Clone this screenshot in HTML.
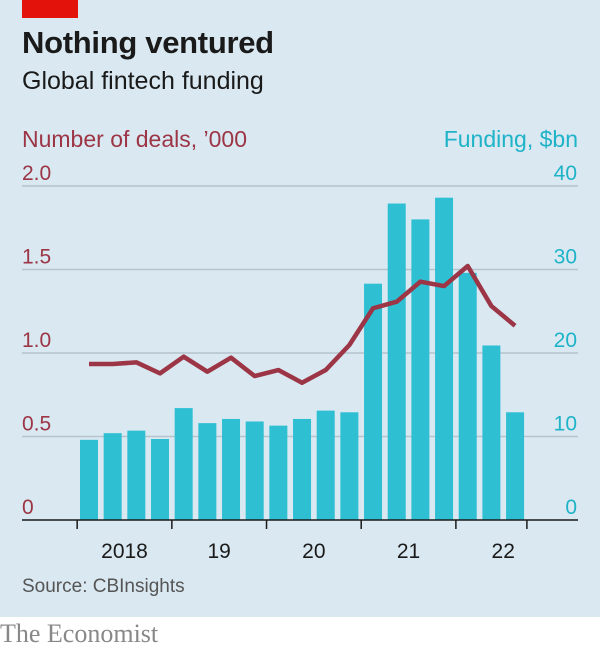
<!DOCTYPE html>
<html><head><meta charset="utf-8"><style>
body{margin:0;width:600px;height:653px;background:#fff;font-family:"Liberation Sans",sans-serif;overflow:hidden}
#panel{position:absolute;left:0;top:0;width:600px;height:617px;background:#d9e8f1}
.t{position:absolute;white-space:nowrap}
</style></head><body>
<div id="panel"></div>
<div class="t" style="left:22px;top:0;width:56px;height:18px;background:#e3120b"></div>
<div class="t" style="left:22px;top:25px;font-size:31px;font-weight:bold;color:#1a1a1a;letter-spacing:-0.3px">Nothing ventured</div>
<div class="t" style="left:22px;top:67px;font-size:25px;color:#1a1a1a">Global fintech funding</div>
<div class="t" style="left:22px;top:126px;font-size:23px;color:#9c3545">Number of deals, ’000</div>
<div class="t" style="right:22px;top:126px;font-size:23px;color:#1fb3c8">Funding, $bn</div>
<svg width="600" height="617" style="position:absolute;left:0;top:0" id="svg"></svg>
<div class="t" style="left:22px;top:576px;font-size:19px;color:#555">Source: CBInsights</div>
<div class="t" style="left:0;top:619px;font-family:'Liberation Serif',serif;font-size:26px;color:#888">The Economist</div>
<script>
const funding=[9.6,10.4,10.7,9.7,13.4,11.6,12.1,11.8,11.3,12.1,13.1,12.9,28.3,37.9,36.0,38.6,29.6,20.9,12.9];
const deals=[0.934,0.934,0.944,0.878,0.978,0.888,0.972,0.862,0.898,0.822,0.898,1.048,1.268,1.307,1.427,1.401,1.521,1.281,1.163];
const leftTicks=["0","0.5","1.0","1.5","2.0"];
const rightTicks=["0","10","20","30","40"];
const yearLabels=["2018","19","20","21","22"];
const NS="http://www.w3.org/2000/svg",svg=document.getElementById('svg');
const yF=v=>520-v*334/40, yD=v=>520-v*334/2, xC=i=>89+i*23.67;
function mk(t,a){const e=document.createElementNS(NS,t);for(const k in a)e.setAttribute(k,a[k]);svg.appendChild(e);return e;}
leftTicks.forEach((s,i)=>{const y=520-i*83.5;
 if(i>0){const g=mk('line',{x1:22,x2:578,y1:y,y2:y,stroke:'#b4c3cc','stroke-width':1.5});
 
 }
 const l=mk('text',{x:22,y:y-6,fill:'#9c3545','font-size':21,'font-family':'Liberation Sans'});l.textContent=s;
 
 
 const r=mk('text',{x:577,y:y-6,fill:'#1fb3c8','font-size':21,'text-anchor':'end','font-family':'Liberation Sans'});r.textContent=rightTicks[i];
 
 
});
funding.forEach((v,i)=>{const b=mk('rect',{x:xC(i)-9,y:yF(v),width:18,height:520-yF(v),fill:'#2ebfd3'});
 
 });
const ax=mk('line',{x1:22,x2:578,y1:520,y2:520,stroke:'#1a1a1a','stroke-width':1.5});


[0,4,8,12,16,19].forEach(k=>{const x=89+(k-0.5)*23.67;const t=mk('line',{x1:x,x2:x,y1:520,y2:529,stroke:'#1a1a1a','stroke-width':1.5});
 
 });
yearLabels.forEach((s,i)=>{const x=89+(i*4+1.5)*23.67;const t=mk('text',{x:x,y:558,'text-anchor':'middle','font-size':21,fill:'#1a1a1a','font-family':'Liberation Sans'});t.textContent=s;
 
 });
const p=mk('polyline',{points:deals.map((v,i)=>xC(i)+','+yD(v)).join(' '),fill:'none',stroke:'#9c3545','stroke-width':4.5,'stroke-linejoin':'round'});


</script>
</body></html>
